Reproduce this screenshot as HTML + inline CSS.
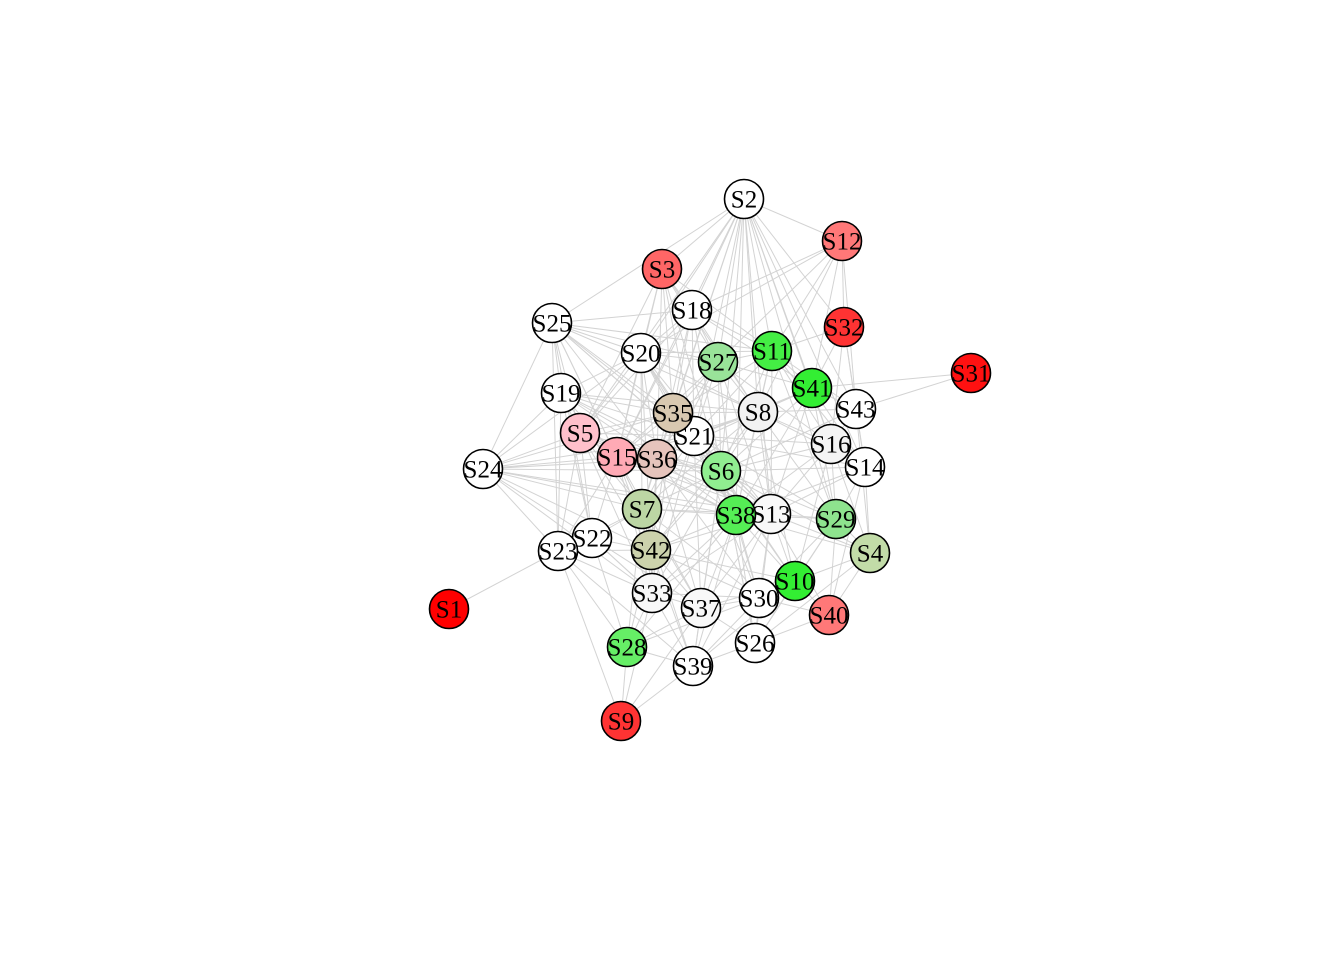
<!DOCTYPE html>
<html><head><meta charset="utf-8"><style>
html,body{margin:0;padding:0;background:#fff;}
svg{display:block;}
text{font-family:"Liberation Serif",serif;font-size:25px;}
</style></head><body>
<svg id="g" width="1344" height="960" viewBox="0 0 1344 960" xmlns="http://www.w3.org/2000/svg">
<rect width="1344" height="960" fill="#fff"/>
<g id="edges"></g>
<g id="nodes"></g>
</svg>
<script>
const nodeIds=[1,2,3,4,5,6,7,8,9,10,11,12,13,14,15,16,18,19,20,21,22,23,24,25,26,27,28,29,30,31,32,33,35,36,37,38,39,40,41,42,43];
const nodeX=[449,744,662,870,580,721,642,758,621,795,772,842,771,865,617,831,692,561,641,694,592,558,483,552,755,718,627,836,759,971,844,652,673,657,701,736,693,829,812,651,856];
const nodeY=[609,199,269,553,433,471,509,412,721,581,351,241,514,467,457,444,310,393,353,436,538,551,469,323,643,362,647,519,598,373,327,593,413,459,608,515,666,615,388,550,409];
const nodeColors=["#ff0000","#ffffff","#ff6666","#c2dca8","#ffc0cb","#90ee90","#bcd6a4","#f2f2f2","#ff3333","#33ee33","#44ee44","#ff7878","#f8f8f8","#ffffff","#ffaab5","#f4f4f4","#ffffff","#ffffff","#ffffff","#ffffff","#ffffff","#ffffff","#ffffff","#ffffff","#ffffff","#99e399","#66ee66","#8ee38e","#ffffff","#ff1111","#ff3333","#f8f8f8","#d8c8b0","#e6c4bc","#f8f8f8","#55ee55","#ffffff","#ff7878","#33ee33","#ccd2ac","#ffffff"];
const edgeList="2-3,2-12,2-18,2-20,2-25,2-27,2-11,2-41,2-8,2-21,2-35,2-6,2-13,2-16,2-14,2-43,2-32,2-5,2-15,2-36,2-38,2-29,12-18,12-27,12-11,12-41,12-8,12-32,12-43,12-20,25-19,25-24,25-5,25-15,25-20,25-18,25-27,25-35,25-21,25-36,25-6,25-8,25-13,25-11,25-7,25-23,25-22,24-19,24-5,24-15,24-36,24-35,24-21,24-6,24-7,24-22,24-23,24-42,24-33,24-13,24-38,24-20,1-23,9-28,9-39,9-23,9-33,9-37,31-43,31-41,23-22,23-28,23-33,23-19,23-5,23-15,23-7,23-42,23-39,19-20,19-5,19-15,19-35,19-21,19-36,19-7,19-6,19-8,19-13,19-22,28-33,28-37,28-39,28-42,28-7,28-22,28-30,28-38,39-33,39-37,39-30,39-26,39-42,39-7,39-6,39-38,39-13,39-10,26-30,26-37,26-10,26-40,26-4,26-13,26-38,26-6,26-29,40-10,40-4,40-29,40-30,40-13,40-14,4-14,4-29,4-16,4-43,4-10,4-13,4-38,4-6,14-43,14-16,14-41,14-8,14-29,14-13,14-38,14-6,14-21,14-11,43-41,43-16,43-8,43-11,43-32,43-6,32-41,32-11,32-16,32-14,3-18,3-20,3-27,3-35,3-21,3-5,3-15,3-36,3-6,3-8,3-11,18-20,18-27,18-11,18-35,18-21,18-6,18-8,18-41,18-15,18-5,18-36,20-27,20-35,20-21,20-5,20-15,20-36,20-6,20-7,20-8,20-11,20-38,20-13,20-42,27-11,27-35,27-21,27-8,27-6,27-41,27-36,27-15,27-7,27-38,27-13,27-16,11-41,11-8,11-21,11-6,11-35,11-16,11-13,11-38,11-29,41-8,41-16,41-6,41-13,41-38,41-29,41-21,8-16,8-21,8-6,8-13,8-38,8-29,8-35,8-36,8-7,8-42,8-10,16-13,16-29,16-6,16-38,16-10,16-21,5-15,5-35,5-21,5-36,5-7,5-42,5-22,5-33,5-6,5-38,5-13,15-35,15-36,15-21,15-7,15-42,15-22,15-33,15-37,15-6,15-38,15-13,15-8,35-21,35-36,35-6,35-7,35-42,35-38,35-13,35-33,36-21,36-6,36-7,36-42,36-33,36-37,36-38,36-13,36-30,21-6,21-7,21-42,21-38,21-13,21-33,21-37,21-30,21-10,21-29,6-7,6-42,6-38,6-13,6-33,6-37,6-30,6-10,6-29,6-26,7-42,7-22,7-33,7-37,7-38,7-13,7-30,42-22,42-33,42-37,42-38,42-30,42-13,42-10,38-13,38-33,38-37,38-30,38-10,38-29,13-30,13-10,13-29,13-37,13-33,33-37,33-30,33-22,37-30,37-10,30-10,30-29,10-29,22-33,22-37";
const R=19.5;
const NS="http://www.w3.org/2000/svg";
const idx={};nodeIds.forEach((id,i)=>idx[id]=i);
const eg=document.getElementById('edges');
edgeList.split(',').forEach(p=>{
  const [a,b]=p.split('-').map(Number);
  const i=idx[a],j=idx[b];
  const l=document.createElementNS(NS,'line');
  l.setAttribute('x1',nodeX[i]);l.setAttribute('y1',nodeY[i]);
  l.setAttribute('x2',nodeX[j]);l.setAttribute('y2',nodeY[j]);
  l.setAttribute('stroke','#d3d3d3');l.setAttribute('stroke-width','1');
  
  
  eg.appendChild(l);
});
const ng=document.getElementById('nodes');
nodeIds.forEach((id,i)=>{
  const g=document.createElementNS(NS,'g');
  
  
  const c=document.createElementNS(NS,'circle');
  c.setAttribute('cx',nodeX[i]);c.setAttribute('cy',nodeY[i]);c.setAttribute('r',R);
  c.setAttribute('fill',nodeColors[i]);c.setAttribute('stroke','#000');c.setAttribute('stroke-width','1.6');
  
  
  const t=document.createElementNS(NS,'text');
  t.setAttribute('x',nodeX[i]);t.setAttribute('y',nodeY[i]+8.5);
  t.setAttribute('text-anchor','middle');
  t.textContent='S'+id;
  
  
  g.appendChild(c);g.appendChild(t);ng.appendChild(g);
});
</script>
</body></html>
